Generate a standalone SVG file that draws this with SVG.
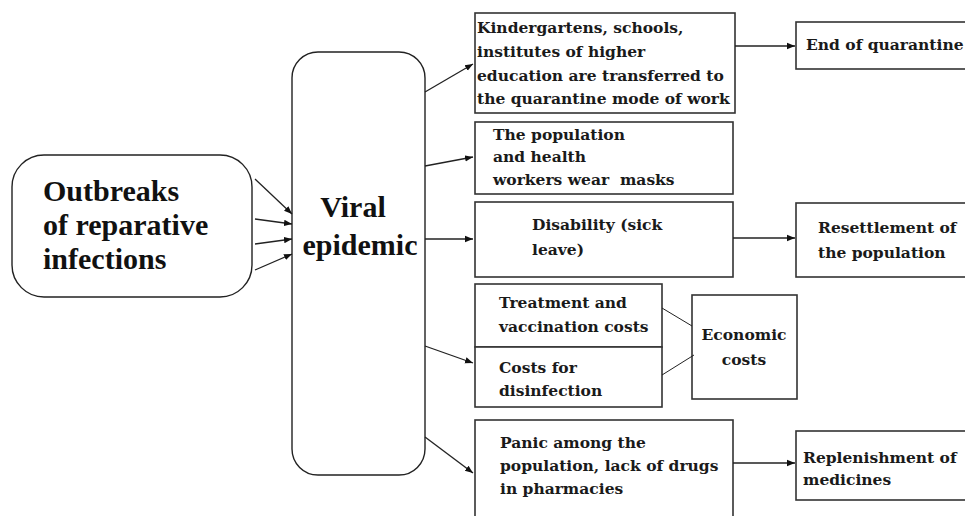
<svg xmlns="http://www.w3.org/2000/svg" width="965" height="516" viewBox="0 0 965 516">
  <style>
    .box { fill: #fff; stroke: #333; stroke-width: 1.6; }
    .rbox { fill: #fff; stroke: #222; stroke-width: 1.4; }
    .big { font-family: "Liberation Serif", "Times New Roman", serif; font-weight: bold; font-size: 30px; fill: #111; }
    .txt { font-family: "DejaVu Serif", "Liberation Serif", serif; font-weight: bold; font-size: 15.5px; fill: #1a1a1a; }
    .arr { stroke: #222; stroke-width: 1.3; fill: none; marker-end: url(#head); }
    .ln { stroke: #222; stroke-width: 1; fill: none; }
  </style>
  <defs>
    <marker id="head" viewBox="0 0 10 10" refX="10" refY="5" markerWidth="8" markerHeight="8" markerUnits="userSpaceOnUse" orient="auto">
      <path d="M0,1 L10,5 L0,9 Z" fill="#111"/>
    </marker>
  </defs>

  <rect width="965" height="516" fill="#fff"/>

  <!-- source node -->
  <g id="outbreaks">
    <rect class="rbox" x="12" y="155" width="240" height="142" rx="32" ry="32"/>
    <text class="big" x="43" y="201">Outbreaks</text>
    <text class="big" x="43" y="235">of reparative</text>
    <text class="big" x="43" y="269">infections</text>
  </g>

  <!-- central node -->
  <g id="viral-epidemic">
    <rect class="rbox" x="292" y="52" width="133" height="423" rx="26" ry="26"/>
    <text class="big" x="353" y="217" text-anchor="middle">Viral</text>
    <text class="big" x="360" y="255" text-anchor="middle">epidemic</text>
  </g>

  <!-- consequence nodes -->
  <g id="schools">
    <rect class="box" x="475" y="13" width="260" height="100"/>
    <text class="txt" x="477" y="33">Kindergartens, schools,</text>
    <text class="txt" x="477" y="57">institutes of higher</text>
    <text class="txt" x="477" y="81">education are transferred to</text>
    <text class="txt" x="477" y="104">the quarantine mode of work</text>
  </g>

  <g id="end-quarantine">
    <rect class="box" x="796" y="22" width="175" height="47"/>
    <text class="txt" x="806" y="50">End of quarantine</text>
  </g>

  <g id="masks">
    <rect class="box" x="475" y="122" width="258" height="72"/>
    <text class="txt" x="493" y="140">The population</text>
    <text class="txt" x="493" y="162">and health</text>
    <text class="txt" x="493" y="185" xml:space="preserve">workers wear  masks</text>
  </g>

  <g id="disability">
    <rect class="box" x="475" y="202" width="258" height="75"/>
    <text class="txt" x="532" y="230">Disability (sick</text>
    <text class="txt" x="532" y="255">leave)</text>
  </g>

  <g id="resettlement">
    <rect class="box" x="796" y="203" width="175" height="74"/>
    <text class="txt" x="818" y="233">Resettlement of</text>
    <text class="txt" x="818" y="258">the population</text>
  </g>

  <g id="treatment-costs">
    <rect class="box" x="475" y="284" width="187" height="63"/>
    <text class="txt" x="499" y="308">Treatment and</text>
    <text class="txt" x="499" y="332">vaccination costs</text>
  </g>

  <g id="disinfection-costs">
    <rect class="box" x="475" y="347" width="187" height="60"/>
    <text class="txt" x="499" y="373">Costs for</text>
    <text class="txt" x="499" y="396">disinfection</text>
  </g>

  <g id="economic-costs">
    <rect class="box" x="692" y="295" width="105" height="104"/>
    <text class="txt" x="744" y="340" text-anchor="middle">Economic</text>
    <text class="txt" x="744" y="365" text-anchor="middle">costs</text>
  </g>

  <g id="panic">
    <rect class="box" x="475" y="420" width="258" height="110"/>
    <text class="txt" x="500" y="448">Panic among the</text>
    <text class="txt" x="500" y="471">population, lack of drugs</text>
    <text class="txt" x="500" y="494">in pharmacies</text>
  </g>

  <g id="replenishment">
    <rect class="box" x="796" y="431" width="175" height="69"/>
    <text class="txt" x="803" y="463">Replenishment of</text>
    <text class="txt" x="803" y="485">medicines</text>
  </g>

  <!-- connectors -->
  <g id="connectors">
    <line class="arr" x1="255" y1="179" x2="292" y2="214"/>
    <line class="arr" x1="255" y1="219" x2="292" y2="224"/>
    <line class="arr" x1="255" y1="244" x2="292" y2="239"/>
    <line class="arr" x1="255" y1="270" x2="292" y2="254"/>

    <line class="arr" x1="425" y1="92" x2="473" y2="64"/>
    <line class="arr" x1="425" y1="166" x2="473" y2="157"/>
    <line class="arr" x1="425" y1="239" x2="473" y2="239"/>
    <line class="arr" x1="425" y1="346" x2="473" y2="363"/>
    <line class="arr" x1="425" y1="437" x2="473" y2="473"/>

    <line class="arr" x1="735" y1="46" x2="795" y2="46"/>
    <line class="arr" x1="733" y1="238" x2="795" y2="238"/>
    <line class="arr" x1="733" y1="463" x2="795" y2="463"/>

    <line class="ln" x1="662" y1="308" x2="692" y2="326"/>
    <line class="ln" x1="662" y1="375" x2="694" y2="355"/>
  </g>
</svg>
